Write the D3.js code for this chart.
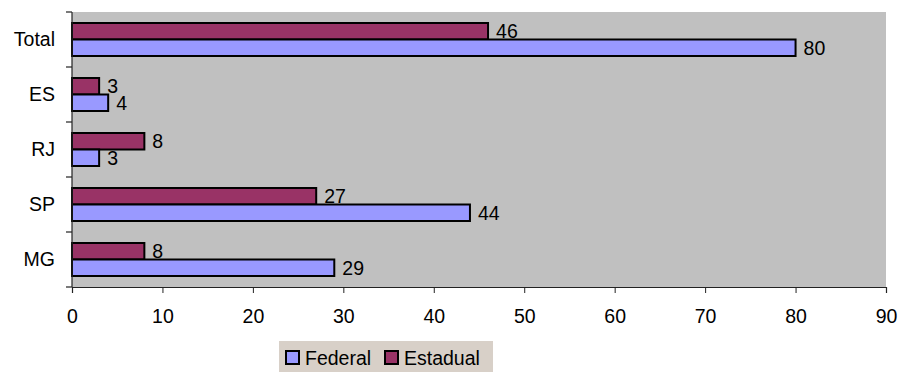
<!DOCTYPE html>
<html>
<head>
<meta charset="utf-8">
<script src="https://cdn.jsdelivr.net/npm/d3@7"></script>
<style>
  body { margin: 0; background: #fff; }
  svg { display: block; font-family: Arial, "Liberation Sans", sans-serif; }
</style>
</head>
<body>
<div id="chart"></div>
<script>
// categories top to bottom
const categories = ["Total", "ES", "RJ", "SP", "MG"];
const federal = [80, 4, 3, 44, 29];
const estadual = [46, 3, 8, 27, 8];
const seriesNames = ["Estadual", "Federal"];
const legendNames = ["Federal", "Estadual"];
const xTicks = [0, 10, 20, 30, 40, 50, 60, 70, 80, 90];

const colors = { Federal: "#9999ff", Estadual: "#993366" };

const width = 902, height = 372;
const plot = { left: 72, right: 886, top: 12, bottom: 287 };
const fontSize = 19.5;

let svg = d3.select('#chart').append('svg')
    .attr('width', width)
    .attr('height', height);

const xScale = d3.scaleLinear()
    .domain([0, 90])
    .range([plot.left, plot.right]);

const yScale = d3.scaleBand()
    .domain(categories)
    .range([plot.top, plot.bottom])
    .paddingInner(0.4)
    .paddingOuter(0.2);

const subScale = d3.scaleBand()
    .domain(seriesNames)
    .range([0, yScale.bandwidth()]);

// plot background
svg.append('rect')
    .attr('x', plot.left)
    .attr('y', plot.top)
    .attr('width', plot.right - plot.left)
    .attr('height', plot.bottom - plot.top)
    .attr('fill', '#c0c0c0');

const rows = categories.map((c, i) => ({
    cat: c,
    vals: [
        { name: "Estadual", value: estadual[i] },
        { name: "Federal", value: federal[i] }
    ]
}));

const groups = svg.append('g').selectAll('g')
    .data(rows)
    .join('g')
    .attr('transform', d => `translate(0,${yScale(d.cat)})`);

groups.selectAll('rect')
    .data(d => d.vals)
    .join('rect')
    .attr('x', xScale(0))
    .attr('y', d => subScale(d.name))
    .attr('width', d => xScale(d.value) - xScale(0))
    .attr('height', subScale.bandwidth())
    .attr('fill', d => colors[d.name])
    .attr('stroke', '#000')
    .attr('stroke-width', 2);

groups.selectAll('text')
    .data(d => d.vals)
    .join('text')
    .attr('x', d => xScale(d.value) + 8)
    .attr('y', d => subScale(d.name) + subScale.bandwidth() / 2)
    .attr('dy', '0.35em')
    .attr('font-size', fontSize)
    .attr('fill', '#000')
    .text(d => d.value);

// x axis
const xAxis = svg.append('g')
    .attr('transform', `translate(0,${plot.bottom})`)
    .call(d3.axisBottom(xScale).tickValues(xTicks).tickSize(6).tickPadding(16).tickFormat(d3.format('d')));
xAxis.select('.domain').attr('stroke', '#222').attr('stroke-width', 1.2);
xAxis.selectAll('.tick line').attr('stroke', '#222');
xAxis.selectAll('text').attr('font-size', fontSize).attr('fill', '#000')
    .attr('font-family', 'Arial, "Liberation Sans", sans-serif');

// y axis: ticks between categories
const yAxis = svg.append('g');
yAxis.append('line')
    .attr('x1', plot.left).attr('x2', plot.left)
    .attr('y1', plot.top).attr('y2', plot.bottom)
    .attr('stroke', '#222').attr('stroke-width', 1.2);
const tickYs = d3.range(categories.length + 1).map(i => plot.top + i * yScale.step());
yAxis.selectAll('line.tick')
    .data(tickYs)
    .join('line')
    .attr('class', 'tick')
    .attr('x1', plot.left - 6).attr('x2', plot.left)
    .attr('y1', d => d).attr('y2', d => d)
    .attr('stroke', '#222').attr('stroke-width', 1.2);
yAxis.selectAll('text')
    .data(categories)
    .join('text')
    .attr('x', plot.left - 17)
    .attr('y', d => yScale(d) + yScale.bandwidth() / 2)
    .attr('dy', '0.35em')
    .attr('text-anchor', 'end')
    .attr('font-size', fontSize)
    .attr('fill', '#000')
    .text(d => d);

// legend
const legend = svg.append('g');
legend.append('rect')
    .attr('x', 279).attr('y', 341)
    .attr('width', 214).attr('height', 31)
    .attr('fill', '#d8d0c8');
const legendX = [286, 385];
const items = legend.selectAll('g')
    .data(legendNames)
    .join('g')
    .attr('transform', (d, i) => `translate(${legendX[i]},351)`);
items.append('rect')
    .attr('width', 13).attr('height', 13)
    .attr('fill', d => colors[d])
    .attr('stroke', '#000')
    .attr('stroke-width', 2);
items.append('text')
    .attr('x', 19)
    .attr('y', 7)
    .attr('dy', '0.35em')
    .attr('font-size', fontSize)
    .attr('fill', '#000')
    .text(d => d);
</script>
</body>
</html>
